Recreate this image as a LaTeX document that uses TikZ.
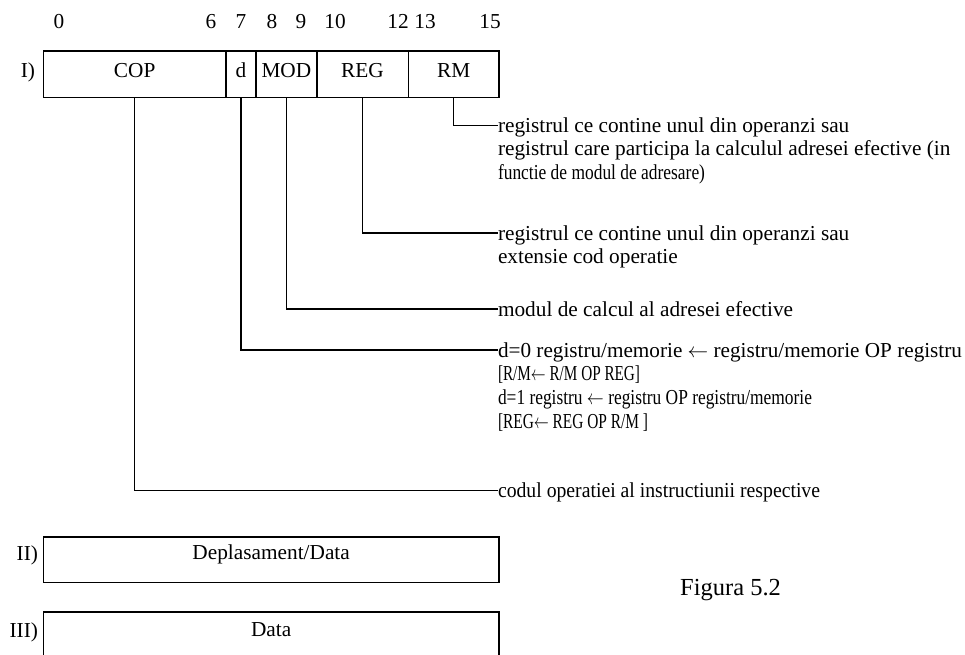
\documentclass[tikz,border=0pt]{standalone}
\usepackage{fontspec}
\usepackage{graphicx}
\setmainfont{Liberation Serif}
% squeeze a line of text to a given width, keeping its height
\newcommand\fitw[2]{\resizebox{#1}{\height}{#2}}
\newcommand\la{\ensuremath{\leftarrow}}
\begin{document}
\begin{tikzpicture}[x=1pt,y=-1pt,
  txt/.style={inner sep=0pt, outer sep=0pt, font=\fontsize{21.3}{24}\selectfont},
  fieldbox/.style={draw, line width=1.6pt, inner sep=0pt, outer sep=0pt,
    minimum height=46.3pt, text height=14pt, text depth=8pt,
    font=\fontsize{21.3}{24}\selectfont},
  wordbox/.style={draw, line width=1.6pt, inner sep=0pt, outer sep=0pt,
    minimum width=455.7pt, anchor=north west},
  note/.style={txt, anchor=west, text height=14pt, text depth=0pt},
  wire/.style={line width=1.2pt},
  bitno/.style={txt, anchor=base}
]
\clip (0,0) rectangle (965,654);

% bit numbers above the first instruction word
\foreach \x/\n in {59/0, 211/6, 241/7, 272/8, 301/9, 335/10, 398/12, 425/13, 490/15}
  \node[bitno] (b\n) at (\x,28) {\n};

% format I: COP | d | MOD | REG | RM
\node[fieldbox, anchor=north west, minimum width=182.7pt] (cop) at (43.3,51) {COP};
\node[fieldbox, anchor=north west, minimum width=30pt]    (dd)  at (cop.north east) {d};
\node[fieldbox, anchor=north west, minimum width=60.7pt]  (mod) at (dd.north east) {MOD};
\node[fieldbox, anchor=north west, minimum width=91.6pt]  (reg) at (mod.north east) {REG};
\node[fieldbox, anchor=north west, minimum width=90.7pt]  (rm)  at (reg.north east) {RM};
\node[txt, anchor=base east] (lI) at (35,77) {I)};

% field descriptions
\node[note] (trm1) at (498,125.3) {registrul ce contine unul din operanzi sau};
\node[note] (trm2) at (498,148.8) {registrul care participa la calculul adresei efective (in};
\node[note] (trm3) at (498,172.3) {\fitw{207pt}{functie de modul de adresare)}};

\node[note] (treg1) at (498,233) {registrul ce contine unul din operanzi sau};
\node[note] (treg2) at (498,256.5) {extensie cod operatie};

\node[note] (tmod) at (498,309) {modul de calcul al adresei efective};

\node[note] (td1) at (498,350) {\fitw{464pt}{d=0 registru/memorie \la{} registru/memorie OP registru}};
\node[note] (td2) at (498,373.7) {\fitw{142pt}{[R/M\la{} R/M OP REG]}};
\node[note] (td3) at (498,397.4) {\fitw{314pt}{d=1 registru \la{} registru OP registru/memorie}};
\node[note] (td4) at (498,421.1) {\fitw{150pt}{[REG\la{} REG OP R/M ]}};

\node[note] (tcop) at (498,490.7) {\fitw{322pt}{codul operatiei al instructiunii respective}};

% connectors from each field to its description
\draw[wire] (rm.south)  |- (trm1.west);
\draw[wire] (reg.south) |- (treg1.west);
\draw[wire] (mod.south) |- (tmod.west);
\draw[wire] (dd.south)  |- (td1.west);
\draw[wire] (cop.south) |- (tcop.west);

% formats II and III
\node[wordbox, minimum height=45.6pt] (w2) at (43.3,536.7) {};
\node[txt, anchor=base] (w2t) at ([yshift=-23pt]w2.north) {Deplasament/Data};
\node[txt, anchor=base east] (lII) at (38,560) {II)};

\node[wordbox, minimum height=60pt] (w3) at (43.3,611.7) {};
\node[txt, anchor=base] (w3t) at ([yshift=-25pt]w3.north) {Data};
\node[txt, anchor=base east] (lIII) at (38,637) {III)};

\node[inner sep=0pt, anchor=base west, font=\fontsize{24.5}{28}\selectfont] (fig) at (680,595) {Figura 5.2};
\end{tikzpicture}
\end{document}
